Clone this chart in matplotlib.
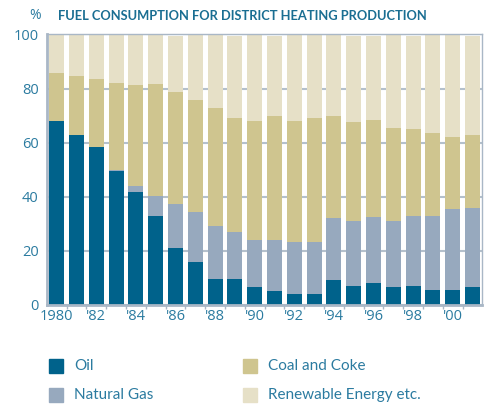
import matplotlib.pyplot as plt
from matplotlib.patches import Rectangle
import numpy as np

years = list(range(1980, 2002))
tick_labels = ["1980", "'82", "'84", "'86", "'88", "'90", "'92", "'94", "'96", "'98", "'00"]

# shares in %
oil = [68.0, 62.8, 58.4, 49.6, 41.8, 32.9, 21.1, 15.9, 9.6, 9.6, 6.7,
       5.2, 4.1, 4.1, 9.2, 7.0, 8.1, 6.7, 7.0, 5.5, 5.5, 6.7]
natural_gas = [0.0, 0.0, 0.0, 0.4, 2.2, 7.4, 16.2, 18.5, 19.6, 17.4, 17.3,
               18.8, 19.2, 19.2, 23.0, 24.1, 24.4, 24.4, 25.9, 27.4, 30.0, 29.2]
coal_and_coke = [17.8, 21.9, 25.1, 32.1, 37.3, 41.4, 41.4, 41.4, 43.6, 42.1, 44.0,
                 45.9, 44.7, 45.8, 37.7, 36.6, 35.9, 34.3, 32.2, 30.7, 26.6, 26.9]
renewable = [14.2, 15.3, 16.5, 17.9, 18.7, 18.3, 20.6, 24.2, 27.2, 30.2, 32.0,
             29.4, 32.0, 30.9, 30.1, 31.6, 30.9, 34.6, 34.2, 36.4, 37.9, 36.5]

series = [oil, natural_gas, coal_and_coke, renewable]
names = ["Oil", "Natural Gas", "Coal and Coke", "Renewable Energy etc."]
colors = ["#00628b", "#97a9be", "#cfc58f", "#e6e0c7"]

text_col = "#2b7ba0"
title_col = "#1a6e92"
frame_col = "#a9b7c6"

plt.rcParams['font.family'] = ['Open Sans', 'DejaVu Sans']

fig = plt.figure(figsize=(4.88, 4.08), dpi=100)
ax = fig.add_axes([0.0963, 0.2525, 0.8907, 0.663])

x = np.arange(len(years))
bottom = np.zeros(len(years))
for vals, c in zip(series, colors):
    ax.bar(x, vals, width=0.76, bottom=bottom, color=c, zorder=2)
    bottom += np.array(vals)

ax.set_xlim(-0.49, 21.46)
ax.set_ylim(0, 100)
ax.set_yticks([0, 20, 40, 60, 80, 100])
ax.yaxis.grid(True, color="#b4c0cc", linewidth=1.5, zorder=0)
ax.set_axisbelow(True)

ax.set_xticks(x[::2])
ax.set_xticklabels(tick_labels)
ax.set_xticks(x[:-1] + 0.5, minor=True)
ax.tick_params(axis='x', which='major', length=0, pad=3, labelsize=10.5, labelcolor=text_col)
ax.tick_params(axis='x', which='minor', length=3, width=1, color=frame_col)
ax.tick_params(axis='y', length=0, pad=6, labelsize=10.5, labelcolor=text_col)

for s in ['top', 'right']:
    ax.spines[s].set_color(frame_col)
    ax.spines[s].set_linewidth(1.0)
for s in ['left', 'bottom']:
    ax.spines[s].set_color(frame_col)
    ax.spines[s].set_linewidth(2.0)

fig.text(0.060, 0.962, "%", color=text_col, fontsize=10, ha='left', va='center')
fig.text(0.119, 0.962, "FUEL CONSUMPTION FOR DISTRICT HEATING PRODUCTION",
         color=title_col, fontsize=9.3, fontweight='bold', ha='left', va='center',
         family=['Lato', 'DejaVu Sans'])

# legend, two columns
W, H = 488.0, 408.0
legend_pos = [(49, 359), (49, 388), (243, 359), (243, 388)]
for (px, py), name, c in zip(legend_pos, names, colors):
    fig.add_artist(Rectangle((px / W, 1 - (py + 14) / H), 14 / W, 14 / H,
                             transform=fig.transFigure, color=c))
    fig.text((px + 25) / W, 1 - (py + 7) / H, name, color=text_col,
             fontsize=11, ha='left', va='center', family=['Lato', 'DejaVu Sans'])

fig.savefig("out.png", dpi=100)
